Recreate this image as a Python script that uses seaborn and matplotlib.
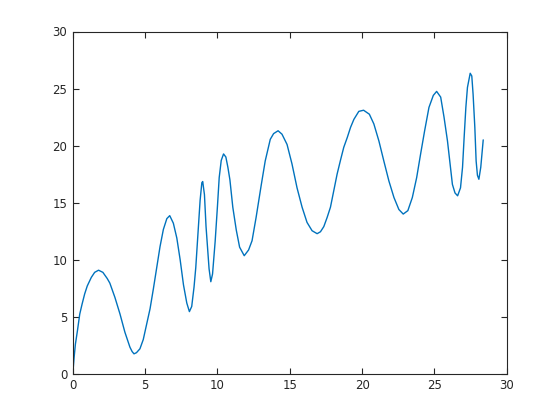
import matplotlib
matplotlib.use("Agg")
import matplotlib.pyplot as plt
import seaborn as sns
import pandas as pd

x_values = [
    0.00, 0.09, 0.18, 0.32, 0.48, 0.64, 0.82, 1.00, 1.28, 1.51, 1.78, 2.08, 2.38, 2.56,
    2.91, 3.26, 3.60, 3.95, 4.10, 4.23, 4.40, 4.64, 4.87, 5.10, 5.34, 5.57, 5.80, 6.03,
    6.26, 6.50, 6.70, 6.95, 7.19, 7.42, 7.65, 7.88, 8.06, 8.22, 8.38, 8.50, 8.60, 8.68,
    8.80, 8.92, 8.98, 9.10, 9.21, 9.33, 9.42, 9.54, 9.66, 9.84, 10.00, 10.12, 10.26,
    10.42, 10.58, 10.72, 10.86, 11.06, 11.30, 11.53, 11.85, 12.15, 12.39, 12.67, 13.02,
    13.30, 13.65, 13.88, 14.19, 14.46, 14.81, 15.15, 15.50, 15.85, 16.19, 16.54, 16.89,
    17.12, 17.35, 17.58, 17.81, 18.04, 18.27, 18.50, 18.73, 18.97, 19.20, 19.43, 19.77, 20.10,
    20.50, 20.81, 21.16, 21.50, 21.85, 22.20, 22.54, 22.84, 23.16, 23.47, 23.77, 24.04,
    24.32, 24.62, 24.92, 25.15, 25.43, 25.66, 25.90, 26.08, 26.24, 26.42, 26.60, 26.80,
    26.94, 27.05, 27.17, 27.28, 27.47, 27.58, 27.67, 27.79, 27.88, 27.97, 28.07, 28.20,
    28.37,
]
y_values = [
    0.00, 1.43, 2.60, 3.77, 5.23, 6.10, 7.00, 7.70, 8.45, 8.89, 9.08, 8.89, 8.35, 7.95,
    6.70, 5.25, 3.65, 2.33, 1.95, 1.75, 1.85, 2.19, 3.00, 4.30, 5.70, 7.45, 9.33, 11.15,
    12.65, 13.60, 13.86, 13.20, 11.90, 10.00, 7.80, 6.20, 5.45, 5.90, 7.60, 9.30, 11.30, 13.00,
    15.20, 16.75, 16.85, 15.70, 12.90, 10.80, 9.20, 8.07, 8.75, 11.60, 14.70, 17.20, 18.70,
    19.27, 19.00, 18.10, 17.00, 14.60, 12.60, 11.10, 10.35, 10.85, 11.66, 13.70, 16.50,
    18.65, 20.55, 21.05, 21.30, 21.00, 20.10, 18.40, 16.30, 14.60, 13.27, 12.54, 12.28,
    12.45, 12.90, 13.70, 14.60, 16.05, 17.50, 18.70, 19.85, 20.70, 21.60, 22.30, 23.00, 23.10,
    22.75, 21.90, 20.40, 18.65, 16.90, 15.45, 14.40, 14.00, 14.30, 15.45, 17.20, 19.25,
    21.30, 23.35, 24.40, 24.75, 24.25, 22.50, 20.40, 18.40, 16.60, 15.85, 15.60, 16.30,
    18.10, 20.70, 23.35, 25.10, 26.34, 26.10, 24.50, 21.60, 18.65, 17.40, 17.05, 18.10,
    20.50,
]
x_ticks = [0, 5, 10, 15, 20, 25, 30]
y_ticks = [0, 5, 10, 15, 20, 25, 30]

sns.set_style("white")
plt.rcParams["font.family"] = ["DejaVu Sans"]

df = pd.DataFrame({"x": x_values, "y": y_values})

fig = plt.figure(figsize=(5.6, 4.2), dpi=100)
ax = fig.add_axes([0.13, 0.11, 0.775, 0.815])
sns.lineplot(data=df, x="x", y="y", sort=False, estimator=None, ax=ax,
             color="#0072BD", linewidth=1.0)

ax.set_xlim(0, 30)
ax.set_ylim(0, 30)
ax.set_xticks(x_ticks)
ax.set_yticks(y_ticks)
ax.set_xlabel("")
ax.set_ylabel("")
edge = "#262626"
for s in ax.spines.values():
    s.set_visible(True)
    s.set_color(edge)
    s.set_linewidth(0.8)
ax.tick_params(axis="both", which="both", direction="in", length=4, width=0.8,
               colors=edge, labelsize=8.5, pad=4,
               top=True, right=True, bottom=True, left=True)
ax.grid(False)

fig.savefig("out.png", dpi=100)
